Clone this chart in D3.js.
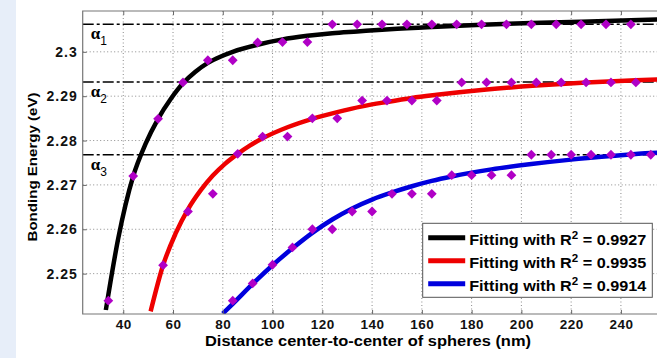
<!DOCTYPE html>
<html>
<head>
<meta charset="utf-8">
<script src="https://cdn.jsdelivr.net/npm/d3@7"></script>
<style>
  body { margin: 0; background: #fff; }
  text { font-family: "Liberation Sans", Arial, sans-serif; }
</style>
</head>
<body>
<div id="chart"></div>
<script>
// measured points (diamonds)
const blackX = [34, 44, 54, 64, 74, 84, 94, 104, 114, 124, 134, 144, 154, 164, 174, 184, 194, 204, 214, 224, 234, 244];
const blackY = [2.2439, 2.2720, 2.2849, 2.2931, 2.2981, 2.2981, 2.3021, 2.3022, 2.3022, 2.3062, 2.3062, 2.3062, 2.3062,
  2.3062, 2.3062, 2.3062, 2.3062, 2.3062, 2.3062, 2.3062, 2.3062, 2.3062];
const redX = [56, 66, 76, 86, 96, 106, 116, 126, 136, 146, 156, 166, 176, 186, 196, 206, 216, 226, 236, 246];
const redY = [2.2519, 2.2640, 2.2680, 2.2770, 2.2809, 2.2809, 2.2850, 2.2850, 2.2890, 2.2890, 2.2890, 2.2890,
  2.2931, 2.2931, 2.2931, 2.2931, 2.2931, 2.2931, 2.2931, 2.2931];
const blueX = [84, 92, 100, 108, 116, 124, 132, 140, 148, 156, 164, 172, 180, 188, 196, 204, 212, 220, 228, 236, 244, 252];
const blueY = [2.2439, 2.2478, 2.2520, 2.2559, 2.2600, 2.2600, 2.2640, 2.2640, 2.2680, 2.2680, 2.2680, 2.2722,
  2.2722, 2.2722, 2.2722, 2.2768, 2.2768, 2.2768, 2.2768, 2.2768, 2.2768, 2.2768];

// fitted curves
const fitBlackX = [33, 38, 44, 49, 54, 59, 64, 69, 74, 79, 84, 94, 104, 114, 124, 134, 144, 154, 164, 184, 204, 224, 244, 256];
const fitBlackY = [2.2418, 2.2580, 2.2720, 2.2793, 2.2849, 2.2893, 2.2929, 2.2955, 2.2975, 2.2989, 2.3000, 2.3016,
  2.3028, 2.3036, 2.3042, 2.3046, 2.3050, 2.3053, 2.3056, 2.3061, 2.3065, 2.3068, 2.3071, 2.3073];
const fitRedX = [51, 56, 61, 66, 71, 76, 81, 86, 91, 96, 106, 116, 126, 136, 146, 156, 166, 186, 206, 226, 246, 256];
const fitRedY = [2.2415, 2.2519, 2.2590, 2.2645, 2.2687, 2.2721, 2.2748, 2.2770, 2.2789, 2.2805, 2.2830, 2.2849,
  2.2864, 2.2877, 2.2887, 2.2896, 2.2903, 2.2915, 2.2924, 2.2931, 2.2936, 2.2938];
const fitBlueX = [80, 84, 92, 100, 108, 116, 124, 132, 140, 148, 156, 164, 172, 188, 204, 220, 236, 252, 256];
const fitBlueY = [2.2410, 2.2432, 2.2477, 2.2519, 2.2557, 2.2592, 2.2622, 2.2647, 2.2667, 2.2683, 2.2697, 2.2709,
  2.2719, 2.2735, 2.2747, 2.2757, 2.2765, 2.2772, 2.2773];

const alphaLevels = [2.3062, 2.2932, 2.2768];
const alphaNames = ["1", "2", "3"];
const xTicks = [40, 60, 80, 100, 120, 140, 160, 180, 200, 220, 240];
const yTicks = [2.25, 2.26, 2.27, 2.28, 2.29, 2.3];
const legendR2 = ["0.9927", "0.9935", "0.9914"];
const fitColors = ["#000000", "#ee0000", "#0000dd"];

var W = 657, H = 358;
var margin = { top: 11, left: 82.7 };
var width = 574.3, height = 303;

var root = d3.select("#chart").append("svg").attr("width", W).attr("height", H);

// light blue strip on the left of the picture
root.append("rect").attr("x", 0).attr("y", 0).attr("width", 16).attr("height", H).attr("fill", "#e7eef9");

var svg = root.append("g").attr("transform", "translate(" + margin.left + "," + margin.top + ")");

var x = d3.scaleLinear().domain([23.7, 254.5]).range([0, width]);
var y = d3.scaleLinear().domain([2.2409, 2.3092]).range([height, 0]);

svg.append("clipPath").attr("id", "clip")
  .append("rect").attr("width", width + 10).attr("height", height);

// grid
svg.append("g").selectAll("line").data(xTicks).enter().append("line")
  .attr("x1", (d) => x(d)).attr("x2", (d) => x(d))
  .attr("y1", 0).attr("y2", height)
  .attr("stroke", "#8a8a8a").attr("stroke-dasharray", "1,2.5");
svg.append("g").selectAll("line").data(yTicks).enter().append("line")
  .attr("x1", 0).attr("x2", width + 10)
  .attr("y1", (d) => y(d)).attr("y2", (d) => y(d))
  .attr("stroke", "#8a8a8a").attr("stroke-dasharray", "1,2.5");

// alpha levels (dash-dot)
svg.append("g").selectAll("line").data(alphaLevels).enter().append("line")
  .attr("x1", 0).attr("x2", width + 10)
  .attr("y1", (d) => y(d)).attr("y2", (d) => y(d))
  .attr("stroke", "#000").attr("stroke-width", 1.5)
  .attr("stroke-dasharray", "11,3,3,3");

// fitted curves
var fits = [
  d3.zip(fitBlackX, fitBlackY),
  d3.zip(fitRedX, fitRedY),
  d3.zip(fitBlueX, fitBlueY),
];
var line = d3.line().x((d) => x(d[0])).y((d) => y(d[1])).curve(d3.curveMonotoneX);
svg.append("g").attr("clip-path", "url(#clip)")
  .selectAll("path").data(fits).enter().append("path")
  .attr("d", line)
  .attr("fill", "none")
  .attr("stroke", (d, i) => fitColors[i])
  .attr("stroke-width", 4.5);

// diamonds
var pts = d3.zip(blackX, blackY).concat(d3.zip(redX, redY), d3.zip(blueX, blueY));
var diamond = d3.symbol().type(d3.symbolSquare).size(48);
svg.append("g").attr("clip-path", "url(#clip)")
  .selectAll("path").data(pts).enter().append("path")
  .attr("d", diamond)
  .attr("transform", (d) => "translate(" + x(d[0]) + "," + y(d[1]) + ") rotate(45)")
  .attr("fill", "#b000c6");

// axes (ticks inside)
var xAxis = svg.append("g").attr("transform", "translate(0," + height + ")")
  .call(d3.axisBottom(x).tickValues(xTicks).tickSize(-4).tickSizeOuter(0).tickPadding(5));
var yAxis = svg.append("g")
  .call(d3.axisLeft(y).tickValues(yTicks).tickSize(-4).tickSizeOuter(0).tickPadding(5).tickFormat(d3.format(".3~f")));
var topAxis = svg.append("g")
  .call(d3.axisTop(x).tickValues(xTicks).tickSize(-4).tickSizeOuter(0).tickFormat(""));

[xAxis, yAxis, topAxis].forEach(function (a) {
  a.select(".domain").remove();
  a.selectAll("line").attr("stroke", "#666");
  a.selectAll("text")
    .style("font-family", "'Liberation Sans', Arial, sans-serif")
    .style("font-size", "14px")
    .style("font-weight", "bold")
    .attr("fill", "#111");
});
yAxis.selectAll("text").style("letter-spacing", "1px");
xAxis.selectAll("text").style("letter-spacing", "0.5px").style("font-size", "13.5px");

// frame (left, top, bottom)
svg.append("path")
  .attr("d", "M" + (width + 10) + ",0H0V" + height + "H" + (width + 10))
  .attr("fill", "none").attr("stroke", "#777").attr("stroke-width", 1.2);

// alpha labels
var al = svg.append("g").selectAll("text").data(alphaLevels).enter().append("text")
  .attr("x", 8)
  .attr("y", (d) => y(d) + 15);
al.append("tspan")
  .style("font-family", "'Liberation Serif', 'DejaVu Serif', serif")
  .style("font-size", "17px")
  .style("font-weight", "bold")
  .text("\u03b1");
al.append("tspan")
  .attr("dy", 6)
  .style("font-size", "12px")
  .text((d, i) => alphaNames[i]);

// legend
var lg = root.append("g").attr("transform", "translate(422.7,223.3)");
lg.append("rect").attr("width", 229.6).attr("height", 74)
  .attr("fill", "#fff").attr("stroke", "#555").attr("stroke-width", 1);
var rows = lg.selectAll(".row").data(legendR2).enter().append("g")
  .attr("class", "row")
  .attr("transform", (d, i) => "translate(0," + (14.5 + i * 23) + ")");
rows.append("line")
  .attr("x1", 5.5).attr("x2", 42.5)
  .attr("stroke", (d, i) => fitColors[i]).attr("stroke-width", 5);
var lt = rows.append("text")
  .attr("x", 46.5).attr("y", 7)
  .attr("textLength", 177).attr("lengthAdjust", "spacingAndGlyphs")
  .style("font-size", "14px").style("font-weight", "bold");
lt.append("tspan").text("Fitting with R");
lt.append("tspan").attr("dy", -6).style("font-size", "10px").text("2");
lt.append("tspan").attr("dy", 6).text((d) => " = " + d);

// y-axis label
root.append("text")
  .attr("transform", "translate(36.5,167) rotate(-90)")
  .attr("text-anchor", "middle")
  .attr("textLength", 149).attr("lengthAdjust", "spacingAndGlyphs")
  .style("font-size", "13px").style("font-weight", "bold")
  .text("Bonding Energy (eV)");

// x-axis label
root.append("text")
  .attr("x", 368).attr("y", 346)
  .attr("text-anchor", "middle")
  .attr("textLength", 326).attr("lengthAdjust", "spacingAndGlyphs")
  .style("font-size", "15px").style("font-weight", "bold")
  .text("Distance center-to-center of spheres (nm)");
</script>
</body>
</html>
